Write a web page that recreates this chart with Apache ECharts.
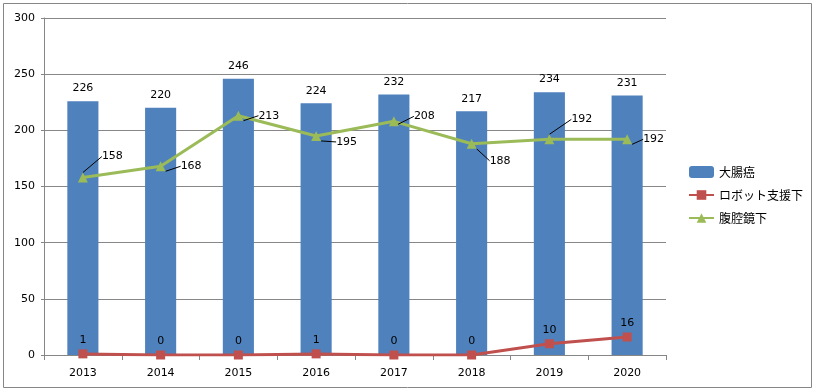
<!DOCTYPE html>
<html><head><meta charset="utf-8">
<script src="https://cdn.jsdelivr.net/npm/echarts@6/dist/echarts.min.js"></script>
<style>html,body{margin:0;padding:0;background:#fff}#c{width:814px;height:391px}</style>
</head><body><div id="c"></div>
<script>
const categories = ['2013','2014','2015','2016','2017','2018','2019','2020'];
const colorectal = [226,220,246,224,232,217,234,231];
const robotic = [1,0,0,1,0,0,10,16];
const laparoscopic = [158,168,213,195,208,188,192,192];
const yTicks = [0,50,100,150,200,250,300];
const seriesNames = ['大腸癌','ロボット支援下','腹腔鏡下'];

const lapOffsets = [[6,-21],[7,0],[7,0],[7,6],[7,-5],[5,17],[9,-20],[3,0]];
const font = 'DejaVu Sans, Verdana, sans-serif';
const chart = echarts.init(document.getElementById('c'));
chart.setOption({
  animation:false,
  textStyle:{fontFamily:font},
  graphic:[{type:'rect',shape:{x:3.5,y:3.5,width:808,height:384},style:{fill:'none',stroke:'#868686',lineWidth:1}}],
  grid:{left:44,right:148,top:18,bottom:36},
  legend:{
    orient:'vertical',left:683,top:161,itemWidth:25,itemHeight:12,itemGap:11,
    textStyle:{fontFamily:'Noto Sans CJK JP',fontSize:12,color:'#000'},
    data:seriesNames
  },
  xAxis:{type:'category',data:categories,boundaryGap:true,
    axisLine:{lineStyle:{color:'#868686'}},
    axisTick:{show:true,length:5,lineStyle:{color:'#868686'}},
    axisLabel:{color:'#000',fontSize:11,margin:13,fontFamily:font}},
  yAxis:{type:'value',min:yTicks[0],max:yTicks[yTicks.length-1],interval:50,
    axisLine:{show:true,lineStyle:{color:'#868686'}},
    axisTick:{show:true,length:3,lineStyle:{color:'#868686'}},
    axisLabel:{color:'#000',fontSize:11,margin:9,fontFamily:font},
    splitLine:{lineStyle:{color:'#878787'}}},
  series:[
    {name:seriesNames[0],type:'bar',data:colorectal,barWidth:'40%',
     itemStyle:{color:'#4F81BD'},
     label:{show:true,position:'top',distance:7,color:'#000',fontSize:11,fontFamily:font}},
    {name:seriesNames[1],type:'line',data:robotic,symbol:'rect',symbolSize:9,
     lineStyle:{color:'#C0504D',width:3},itemStyle:{color:'#C0504D'},
     label:{show:true,position:'top',distance:4,color:'#000',fontSize:11,fontFamily:font}},
    {name:seriesNames[2],type:'line',data:laparoscopic,symbol:'triangle',symbolSize:10,
     lineStyle:{color:'#9BBB59',width:3},itemStyle:{color:'#9BBB59'},
     label:{show:true,position:'right',distance:8,color:'#000',fontSize:11,fontFamily:font},
     labelLine:{show:true,lineStyle:{color:'#000',width:1}},
     labelLayout:function(p){const o=lapOffsets[p.dataIndex];return {dx:o[0],dy:o[1]};}}
  ]
});
</script></body></html>
